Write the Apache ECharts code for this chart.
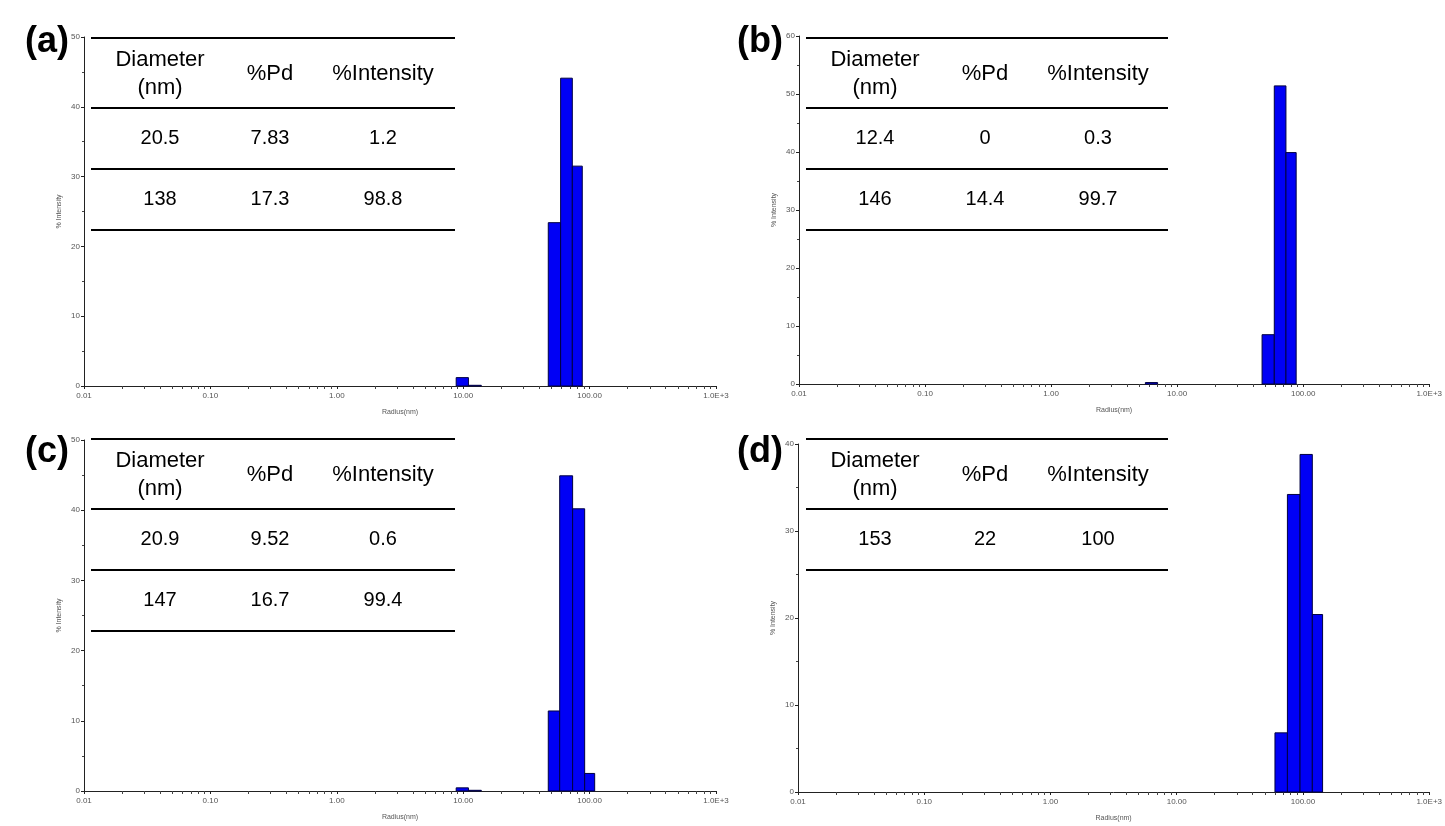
<!DOCTYPE html>
<html>
<head>
<meta charset="utf-8">
<title>DLS size distributions</title>
<script src="https://cdn.jsdelivr.net/npm/echarts@6/dist/echarts.min.js"></script>
<style>
  html, body { margin: 0; padding: 0; background: #fff; }
  #chart { width: 1445px; height: 826px; }
</style>
</head>
<body>
<div id="chart"></div>
<script>
// bin edges (nm, radius) and % intensity for each panel
const binsA = [[8.8, 11.0], [11.0, 13.9], [47.1, 59.0], [59.0, 73.0], [73.0, 87.5]]
const valuesA = [1.2, 0.1, 23.4, 44.1, 31.5]
const binsB = [[5.6, 7.0], [47.2, 59.0], [59.0, 73.0], [73.0, 88.0]]
const valuesB = [0.25, 8.5, 51.4, 39.9]
const binsC = [[8.8, 11.0], [11.0, 13.9], [47.1, 58.0], [58.0, 73.4], [73.4, 91.4], [91.4, 109.7]]
const valuesC = [0.45, 0.1, 11.4, 44.9, 40.2, 2.5]
const binsD = [[60.0, 75.3], [75.3, 94.8], [94.8, 118.6], [118.6, 143.0]]
const valuesD = [6.8, 34.2, 38.8, 20.4]

const yMax = [50, 60, 50, 40]
const panelLetters = ['(a)', '(b)', '(c)', '(d)']

// tables drawn over each plot
const tableHeader = ['Diameter\n(nm)', '%Pd', '%Intensity']
const tableA = [['20.5', '7.83', '1.2'], ['138', '17.3', '98.8']]
const tableB = [['12.4', '0', '0.3'], ['146', '14.4', '99.7']]
const tableC = [['20.9', '9.52', '0.6'], ['147', '16.7', '99.4']]
const tableD = [['153', '22', '100']]

const panels = [
  {bins: binsA, values: valuesA, table: tableA, grid: {left: 84, top: 37, width: 632, height: 349}, tbl: [91, 38, 364], letter: [47, 42]},
  {bins: binsB, values: valuesB, table: tableB, grid: {left: 799, top: 36, width: 632, height: 348}, tbl: [806, 38, 362], letter: [760, 42]},
  {bins: binsC, values: valuesC, table: tableC, grid: {left: 84, top: 440, width: 632, height: 351}, tbl: [91, 439, 364], letter: [47, 452]},
  {bins: binsD, values: valuesD, table: tableD, grid: {left: 798, top: 444, width: 632, height: 348}, tbl: [806, 439, 362], letter: [760, 452]}
]

const font = 'Arial, "Liberation Sans", sans-serif'
const axisColor = '#222'
const labelColor = '#555'

function xLabel(v) {
  if (v >= 999) return '1.0E+3'
  return Number(v).toFixed(2)
}

function renderBar(params, api) {
  const p0 = api.coord([api.value(0), api.value(2)])
  const p1 = api.coord([api.value(1), 0])
  return {
    type: 'rect',
    shape: {x: p0[0], y: p0[1], width: p1[0] - p0[0], height: p1[1] - p0[1]},
    style: {fill: '#0000f5', stroke: '#000040', lineWidth: 1}
  }
}

const grids = [], xAxes = [], yAxes = [], series = [], graphics = []

panels.forEach(function (p, i) {
  grids.push(p.grid)
  xAxes.push({
    type: 'log',
    gridIndex: i,
    min: 0.01,
    max: 1000,
    logBase: 10,
    name: 'Radius(nm)',
    nameLocation: 'middle',
    nameGap: 23,
    nameTextStyle: {fontSize: 7, color: labelColor, fontFamily: font},
    axisLine: {lineStyle: {color: axisColor, width: 1}},
    axisTick: {show: true, length: 3, lineStyle: {color: axisColor}},
    minorTick: {show: true, splitNumber: 9, length: 3, lineStyle: {color: '#444'}},
    axisLabel: {fontSize: 8, color: labelColor, fontFamily: font, margin: 6, formatter: xLabel},
    splitLine: {show: false}
  })
  yAxes.push({
    type: 'value',
    gridIndex: i,
    min: 0,
    max: yMax[i],
    interval: 10,
    name: '% Intensity',
    nameLocation: 'middle',
    nameGap: 21,
    nameRotate: 90,
    nameTextStyle: {fontSize: 7, color: labelColor, fontFamily: font},
    axisLine: {show: true, lineStyle: {color: axisColor, width: 1}},
    axisTick: {show: true, length: 3, lineStyle: {color: axisColor}},
    minorTick: {show: true, splitNumber: 2, length: 2, lineStyle: {color: '#444'}},
    axisLabel: {fontSize: 8, color: labelColor, fontFamily: font, margin: 4},
    splitLine: {show: false}
  })
  series.push({
    type: 'custom',
    xAxisIndex: i,
    yAxisIndex: i,
    renderItem: renderBar,
    encode: {x: [0, 1], y: 2},
    data: p.bins.map(function (b, k) { return [b[0], b[1], p.values[k]] })
  })

  // panel letter
  graphics.push({
    type: 'text',
    x: p.letter[0], y: p.letter[1],
    style: {text: panelLetters[i], fontSize: 36, fontWeight: 'bold', fontFamily: font, fill: '#000', align: 'center', verticalAlign: 'middle'}
  })

  // table rules
  const tx = p.tbl[0], ty = p.tbl[1], tw = p.tbl[2]
  const rules = [0, 70, 131, 192].slice(0, p.table.length + 2)
  rules.forEach(function (dy) {
    graphics.push({
      type: 'line',
      shape: {x1: tx, y1: ty + dy, x2: tx + tw, y2: ty + dy},
      style: {stroke: '#000', lineWidth: 2}
    })
  })

  // table text
  const cols = [69, 179, 292]
  tableHeader.forEach(function (h, c) {
    graphics.push({
      type: 'text',
      x: tx + cols[c], y: ty + 36,
      style: {text: h, fontSize: 22, lineHeight: 28, fontFamily: font, fill: '#000', align: 'center', verticalAlign: 'middle'}
    })
  })
  p.table.forEach(function (row, r) {
    row.forEach(function (cell, c) {
      graphics.push({
        type: 'text',
        x: tx + cols[c], y: ty + 100 + r * 61,
        style: {text: cell, fontSize: 20, fontFamily: font, fill: '#000', align: 'center', verticalAlign: 'middle'}
      })
    })
  })
})

const chart = echarts.init(document.getElementById('chart'))
chart.setOption({
  backgroundColor: '#fff',
  animation: false,
  grid: grids,
  xAxis: xAxes,
  yAxis: yAxes,
  series: series,
  graphic: graphics
})
</script>
</body>
</html>
